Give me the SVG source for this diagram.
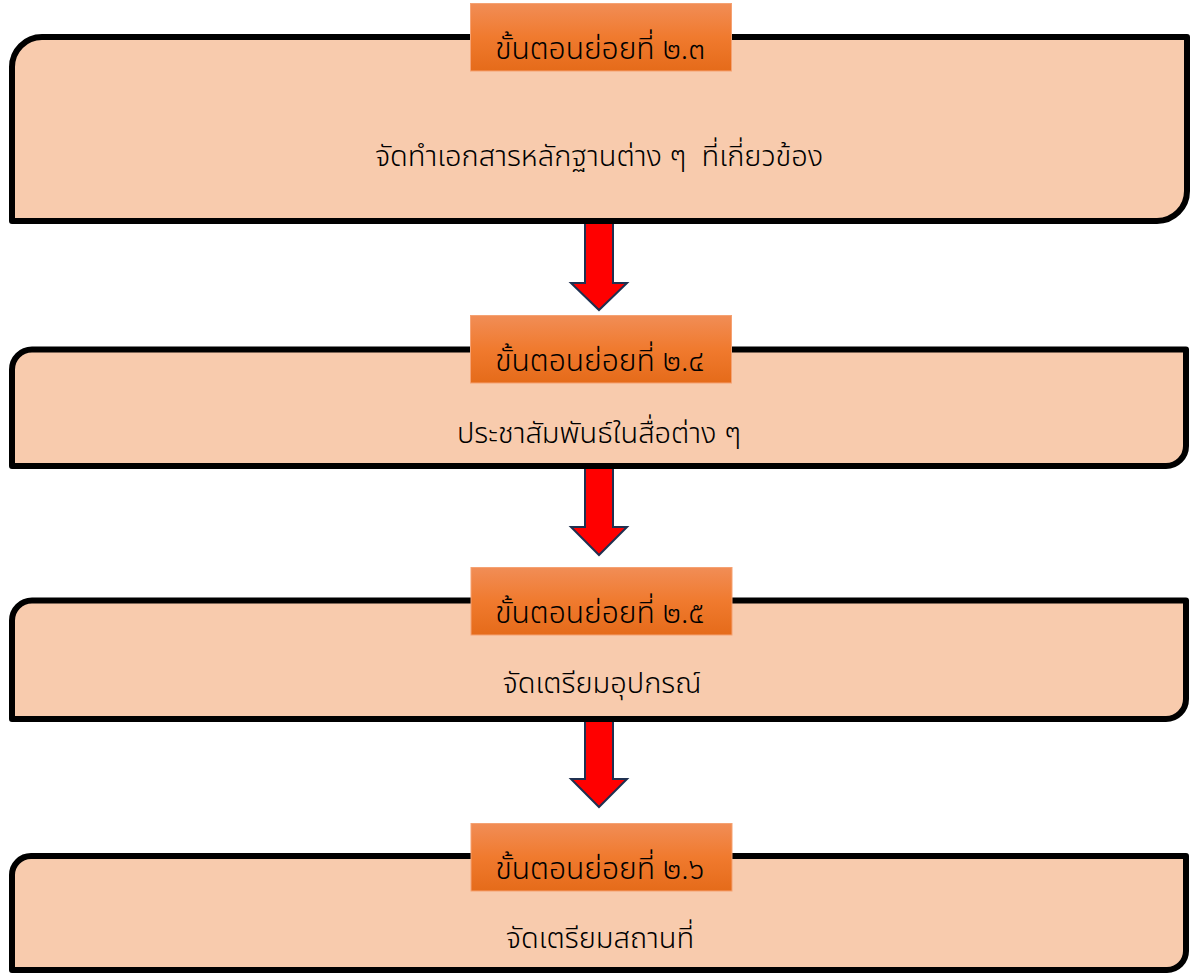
<svg xmlns="http://www.w3.org/2000/svg" width="1190" height="974" viewBox="0 0 1190 974">
<defs>
<linearGradient id="hg" x1="0" y1="0" x2="0" y2="1">
<stop offset="0" stop-color="#F18D56"/>
<stop offset="0.5" stop-color="#F07A2E"/>
<stop offset="1" stop-color="#E56B1A"/>
</linearGradient>
<style>
.box{fill:#F8CBAD;stroke:#000;stroke-width:6;stroke-linejoin:round}
.hdr{fill:url(#hg);stroke:#F5A273;stroke-width:1}
.ht,.bt{font-family:"Noto Sans Thai","Noto Sans","DejaVu Sans",sans-serif;font-weight:300;fill:#000;text-anchor:middle;white-space:pre}
.ht{font-size:30px}
.bt{font-size:29px}
.arr{fill:#FF0000;stroke:#1F3050;stroke-width:2;stroke-linejoin:miter}
</style>
</defs>
<rect width="1190" height="974" fill="#fff"/>
<g id="connectors">
<path class="arr" d="M585,223 H613 V283 H627 L599,310 L571,283 H585 Z"/>
<path class="arr" d="M585,467 H613 V527 H627 L599,555 L571,527 H585 Z"/>
<path class="arr" d="M585,718 H613 V779 H627 L599,807 L571,779 H585 Z"/>
</g>
<g id="step-2-3">
<path class="box" d="M42,37 H1187 V191 A30,30 0 0 1 1157,221 H12 V67 A30,30 0 0 1 42,37 Z"/>
<rect class="hdr" x="470.5" y="3.5" width="261" height="67.5"/>
<text class="ht" x="600" y="59">ขั้นตอนย่อยที่ ๒.๓</text>
<text class="bt" x="599" y="166" xml:space="preserve">จัดทำเอกสารหลักฐานต่าง ๆ  ที่เกี่ยวข้อง</text>
</g>
<g id="step-2-4">
<path class="box" d="M32,349.5 H1186 V446 A20,20 0 0 1 1166,466 H12 V369.5 A20,20 0 0 1 32,349.5 Z"/>
<rect class="hdr" x="470.5" y="315.5" width="261" height="67.5"/>
<text class="ht" x="600" y="371">ขั้นตอนย่อยที่ ๒.๔</text>
<text class="bt" x="599" y="443">ประชาสัมพันธ์ในสื่อต่าง ๆ</text>
</g>
<g id="step-2-5">
<path class="box" d="M32,600.5 H1186 V699 A20,20 0 0 1 1166,719 H12 V620.5 A20,20 0 0 1 32,600.5 Z"/>
<rect class="hdr" x="471" y="567.5" width="261" height="67.5"/>
<text class="ht" x="600" y="623">ขั้นตอนย่อยที่ ๒.๕</text>
<text class="bt" x="602" y="693">จัดเตรียมอุปกรณ์</text>
</g>
<g id="step-2-6">
<path class="box" d="M31,856 H1186 V951 A19,19 0 0 1 1167,970 H12 V875 A19,19 0 0 1 31,856 Z"/>
<rect class="hdr" x="471" y="823.5" width="261" height="67.5"/>
<text class="ht" x="600" y="879">ขั้นตอนย่อยที่ ๒.๖</text>
<text class="bt" x="600" y="948">จัดเตรียมสถานที่</text>
</g>
</svg>
